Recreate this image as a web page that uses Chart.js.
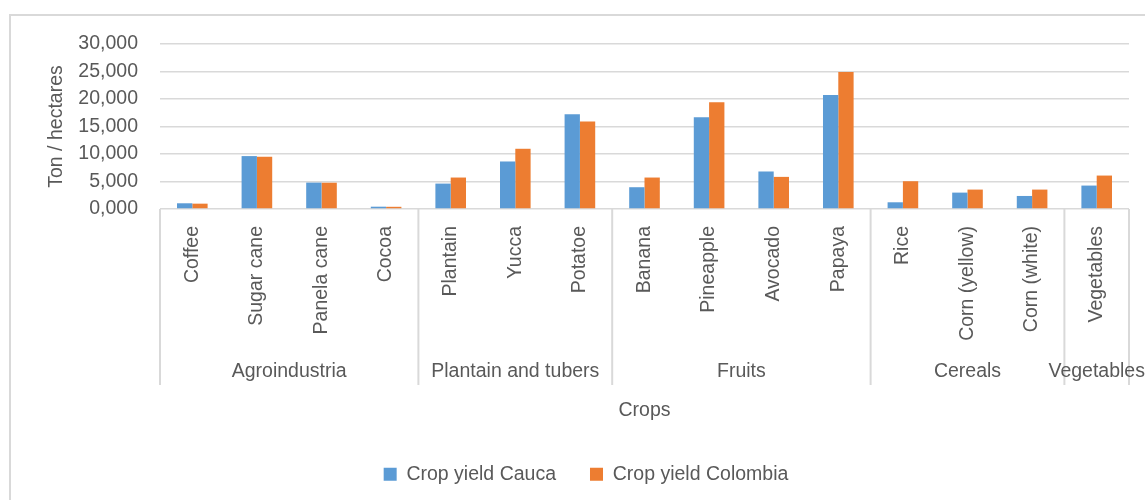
<!DOCTYPE html>
<html>
<head>
<meta charset="utf-8">
<script src="https://cdn.jsdelivr.net/npm/chart.js@4.4.1/dist/chart.umd.min.js"></script>
<style>
  body { margin: 0; background: #fff; overflow: hidden; }
  #frame { position: absolute; left: 9px; top: 14px; width: 1300px; height: 600px; border: 2px solid #d9d9d9; }
  #wrap { position: absolute; left: 0; top: 0; width: 1145px; height: 500px; }
</style>
</head>
<body>
<div id="frame"></div>
<div id="wrap"><canvas id="chart"></canvas></div>
<script>
const categories = ['Coffee', 'Sugar cane', 'Panela cane', 'Cocoa', 'Plantain', 'Yucca', 'Potatoe',
  'Banana', 'Pineapple', 'Avocado', 'Papaya', 'Rice', 'Corn (yellow)', 'Corn (white)', 'Vegetables'];
const groupNames = ['Agroindustria', 'Plantain and tubers', 'Fruits', 'Cereals', 'Vegetables'];
const groupSizes = [4, 3, 4, 3, 1];
const caucaYield = [1040, 9620, 4800, 420, 4620, 8640, 17220, 3960, 16680, 6820, 20750, 1220, 2980, 2370, 4260];
const colombiaYield = [970, 9500, 4780, 400, 5720, 10950, 15890, 5720, 19420, 5840, 24900, 5050, 3530, 3530, 6080];

const FAMILY = "'Liberation Sans', Arial, sans-serif";
const FS = 19.5;
const GREY = '#595959';
const LINE = '#d9d9d9';
const PAD_BOTTOM = 6;
const PLOT_BOTTOM = 209;

// separators + group names under the category labels
const groupPlugin = {
  id: 'groups',
  afterDraw(chart) {
    const ctx = chart.ctx;
    const x = chart.scales.x;
    const step = x.getPixelForValue(1) - x.getPixelForValue(0);
    const top = chart.chartArea.bottom;
    let edges = [x.getPixelForValue(0) - step / 2];
    let idx = 0;
    for (let i = 0; i < groupSizes.length; i++) {
      idx += groupSizes[i];
      edges.push(x.getPixelForValue(idx - 1) + step / 2);
    }
    ctx.save();
    ctx.strokeStyle = LINE;
    ctx.lineWidth = 2;
    edges.forEach(px => {
      ctx.beginPath();
      ctx.moveTo(px, top);
      ctx.lineTo(px, top + 176);
      ctx.stroke();
    });
    ctx.fillStyle = GREY;
    ctx.font = FS + "px " + FAMILY;
    ctx.textAlign = 'center';
    ctx.textBaseline = 'middle';
    for (let i = 0; i < groupNames.length; i++) {
      ctx.fillText(groupNames[i], (edges[i] + edges[i + 1]) / 2, top + 163);
    }
    ctx.restore();
  }
};

new Chart(document.getElementById('chart'), {
  type: 'bar',
  data: {
    labels: categories,
    datasets: [
      { label: 'Crop yield Cauca', data: caucaYield, backgroundColor: '#5B9BD5' },
      { label: 'Crop yield Colombia', data: colombiaYield, backgroundColor: '#ED7D31' }
    ]
  },
  options: {
    responsive: true,
    maintainAspectRatio: false,
    animation: false,
    categoryPercentage: 0.474,
    barPercentage: 1,
    layout: { padding: { left: 43, top: 44, right: 16, bottom: PAD_BOTTOM } },
    plugins: {
      tooltip: { enabled: false },
      legend: {
        position: 'bottom',
        labels: {
          color: GREY,
          font: { family: FAMILY, size: FS },
          boxWidth: 13,
          boxHeight: 13,
          padding: 34
        }
      }
    },
    scales: {
      x: {
        grid: { display: false },
        border: { display: false },
        ticks: {
          color: GREY,
          font: { family: FAMILY, size: FS },
          maxRotation: 90,
          minRotation: 90,
          padding: 9,
          autoSkip: false
        },
        title: {
          display: true,
          text: 'Crops',
          color: GREY,
          font: { family: FAMILY, size: FS },
          padding: { top: 0, bottom: 8 }
        },
        afterFit(scale) {
          const lg = scale.chart.legend;
          scale.height = scale.chart.height - PLOT_BOTTOM - (lg ? lg.height : 0) - PAD_BOTTOM;
        }
      },
      y: {
        min: 0,
        max: 30000,
        border: { display: false },
        grid: { color: LINE, lineWidth: 1.5, drawTicks: false },
        ticks: {
          stepSize: 5000,
          autoSkip: false,
          color: GREY,
          font: { family: FAMILY, size: FS },
          padding: 22,
          callback: v => Math.floor(v / 1000) + ',' + String(v % 1000).padStart(3, '0')
        },
        title: {
          display: true,
          text: 'Ton / hectares',
          color: GREY,
          font: { family: FAMILY, size: FS },
          padding: { top: 2, bottom: 0 }
        },
        afterFit(scale) {
          scale.width = 117;
        }
      }
    }
  },
  plugins: [groupPlugin]
});
</script>
</body>
</html>
